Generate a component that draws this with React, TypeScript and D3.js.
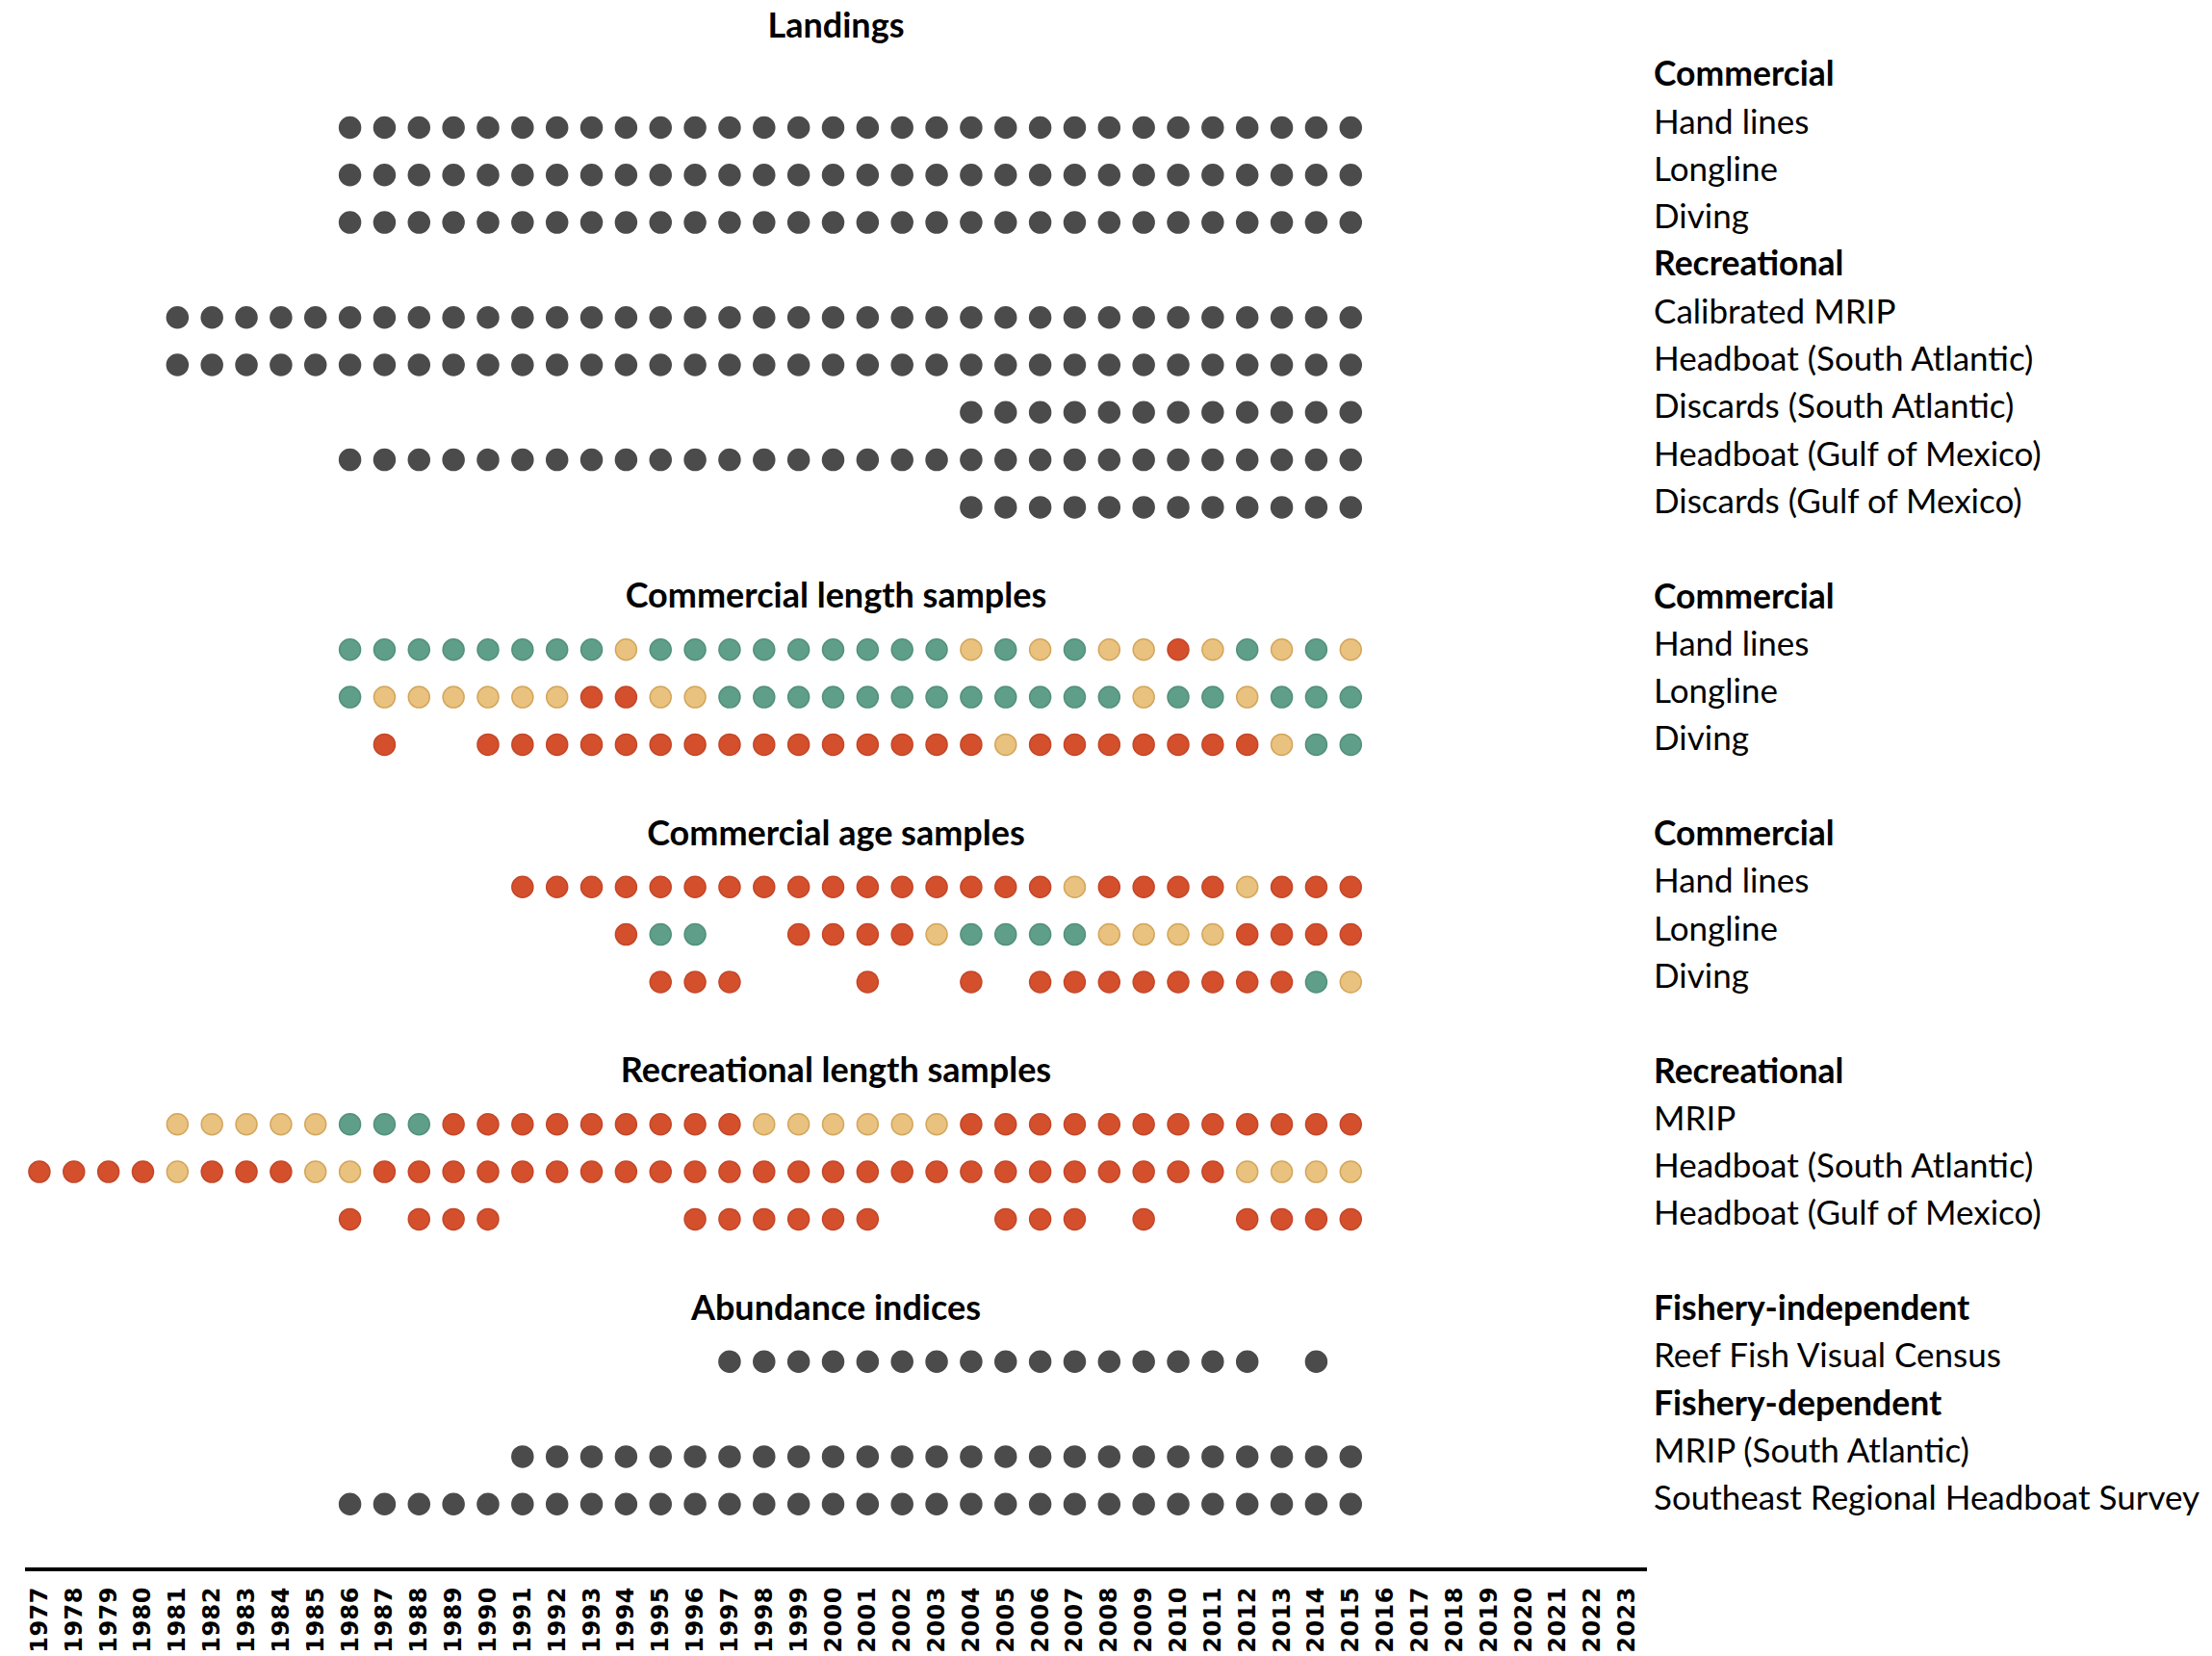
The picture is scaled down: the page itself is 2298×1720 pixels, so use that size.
import React from "react";
import * as d3 from "d3";

// years on the axis
const YEARS = d3.range(1977, 2024);
const FIRST_DATA_YEAR = 1977;

// dot codes per year from 1977 (groups of 5 years, spaces ignored)
// K = data (dark), g = good (green), y = fair (yellow), r = poor (red), . = none
const landingsLabels = [
  "Commercial",
  "Hand lines",
  "Longline",
  "Diving",
  "Recreational",
  "Calibrated MRIP",
  "Headboat (South Atlantic)",
  "Discards (South Atlantic)",
  "Headboat (Gulf of Mexico)",
  "Discards (Gulf of Mexico)",
];
const landingsCodes = [
  null,
  "..... ....K KKKKK KKKKK KKKKK KKKKK KKKKK KKKK",
  "..... ....K KKKKK KKKKK KKKKK KKKKK KKKKK KKKK",
  "..... ....K KKKKK KKKKK KKKKK KKKKK KKKKK KKKK",
  null,
  "....K KKKKK KKKKK KKKKK KKKKK KKKKK KKKKK KKKK",
  "....K KKKKK KKKKK KKKKK KKKKK KKKKK KKKKK KKKK",
  "..... ..... ..... ..... ..... ..KKK KKKKK KKKK",
  "..... ....K KKKKK KKKKK KKKKK KKKKK KKKKK KKKK",
  "..... ..... ..... ..... ..... ..KKK KKKKK KKKK",
];

const commLengthLabels = ["Commercial", "Hand lines", "Longline", "Diving"];
const commLengthCodes = [
  null,
  "..... ....g ggggg ggygg ggggg ggygy gyyry gygy",
  "..... ....g yyyyy yrryy ggggg ggggg ggygg yggg",
  "..... ..... r..rr rrrrr rrrrr rrryr rrrrr rygg",
];

const commAgeLabels = ["Commercial", "Hand lines", "Longline", "Diving"];
const commAgeCodes = [
  null,
  "..... ..... ....r rrrrr rrrrr rrrrr yrrrr yrrr",
  "..... ..... ..... ..rgg ..rrr ryggg gyyyy rrrr",
  "..... ..... ..... ...rr r...r ..r.r rrrrr rrgy",
];

const recLengthLabels = [
  "Recreational",
  "MRIP",
  "Headboat (South Atlantic)",
  "Headboat (Gulf of Mexico)",
];
const recLengthCodes = [
  null,
  "....y yyyyg ggrrr rrrrr ryyyy yyrrr rrrrr rrrr",
  "rrrry rrryy rrrrr rrrrr rrrrr rrrrr rrrrr yyyy",
  "..... ....r .rrr. ....r rrrrr ...rr r.r.. rrrr",
];

const abundanceLabels = [
  "Fishery-independent",
  "Reef Fish Visual Census",
  "Fishery-dependent",
  "MRIP (South Atlantic)",
  "Southeast Regional Headboat Survey",
];
const abundanceCodes = [
  null,
  "..... ..... ..... ..... KKKKK KKKKK KKKKK K.K.",
  null,
  "..... ..... ....K KKKKK KKKKK KKKKK KKKKK KKKK",
  "..... ....K KKKKK KKKKK KKKKK KKKKK KKKKK KKKK",
];

const sections = [
  { title: "Landings", labels: landingsLabels, codes: landingsCodes, ownTitleRow: true },
  { title: "Commercial length samples", labels: commLengthLabels, codes: commLengthCodes, ownTitleRow: false },
  { title: "Commercial age samples", labels: commAgeLabels, codes: commAgeCodes, ownTitleRow: false },
  { title: "Recreational length samples", labels: recLengthLabels, codes: recLengthCodes, ownTitleRow: false },
  { title: "Abundance indices", labels: abundanceLabels, codes: abundanceCodes, ownTitleRow: false },
];

const DOT_STYLE: Record<string, { fill: string; stroke: string }> = {
  K: { fill: "#4b4b4b", stroke: "#4b4b4b" },
  g: { fill: "#5f9e88", stroke: "#53917c" },
  y: { fill: "#eac27f", stroke: "#d3a65c" },
  r: { fill: "#d4502d", stroke: "#c44729" },
};

const WIDTH = 2298;
const HEIGHT = 1720;
const FONT = "Lato, 'Open Sans', sans-serif";
const LEGEND_X = 1718;
const AXIS_Y = 1630;

export default function App() {
  const x = d3.scaleBand<number>().domain(YEARS).range([23, 1708]).padding(0);
  const cx = (yr: number) => (x(yr) ?? 0) + x.bandwidth() / 2;

  // lay out rows in slots
  type Row = { slot: number; label: string; header: boolean; codes: string | null };
  const rows: Row[] = [];
  const titles: { slot: number; text: string }[] = [];
  let slot = 0;
  sections.forEach((s) => {
    titles.push({ slot, text: s.title });
    if (s.ownTitleRow) slot += 1;
    s.labels.forEach((lab, i) => {
      rows.push({ slot, label: lab, header: s.codes[i] === null, codes: s.codes[i] });
      slot += 1;
    });
    slot += 1;
  });
  const maxSlot = d3.max(rows, (r) => r.slot) ?? 31;
  const y = d3.scaleLinear().domain([0, maxSlot]).range([27.4, 27.4 + maxSlot * 49.3]);

  const midX = (x.range()[0] + x.range()[1]) / 2;

  return (
    <div style={{ position: "absolute", left: 0, top: 0 }}>
      <svg width={WIDTH} height={HEIGHT} style={{ display: "block", background: "#fff" }}>
        {titles.map((t) => (
          <text
            key={t.text}
            x={midX + 3}
            y={y(t.slot) + 12}
            textAnchor="middle"
            fontFamily={FONT}
            fontWeight={700}
            fontSize={36}
            fill="#000"
          >
            {t.text}
          </text>
        ))}
        {rows.map((r, i) => (
          <g key={i}>
            <text
              x={LEGEND_X}
              y={y(r.slot) + 12.5}
              fontFamily={FONT}
              fontWeight={r.header ? 700 : 400}
              fontSize={r.header ? 35.5 : 35}
              fill="#000"
            >
              {r.label}
            </text>
            {r.codes &&
              r.codes
                .replace(/ /g, "")
                .split("")
                .map((c, j) =>
                  c === "." ? null : (
                    <circle
                      key={j}
                      cx={cx(FIRST_DATA_YEAR + j)}
                      cy={y(r.slot) + 6.5}
                      r={11}
                      fill={DOT_STYLE[c].fill}
                      stroke={DOT_STYLE[c].stroke}
                      strokeWidth={1.5}
                    />
                  )
                )}
          </g>
        ))}
        <line
          x1={x.range()[0] + 3}
          x2={x.range()[1] + 3}
          y1={AXIS_Y}
          y2={AXIS_Y}
          stroke="#000"
          strokeWidth={4}
        />
        {YEARS.map((yr) => (
          <text
            key={yr}
            transform={`translate(${cx(yr)},${AXIS_Y + 18}) rotate(-90)`}
            textAnchor="end"
            dominantBaseline="central"
            fontFamily="'DejaVu Sans', sans-serif"
            fontWeight={700}
            fontSize={24}
            letterSpacing={0.5}
            fill="#000"
          >
            {yr}
          </text>
        ))}
      </svg>
    </div>
  );
}
